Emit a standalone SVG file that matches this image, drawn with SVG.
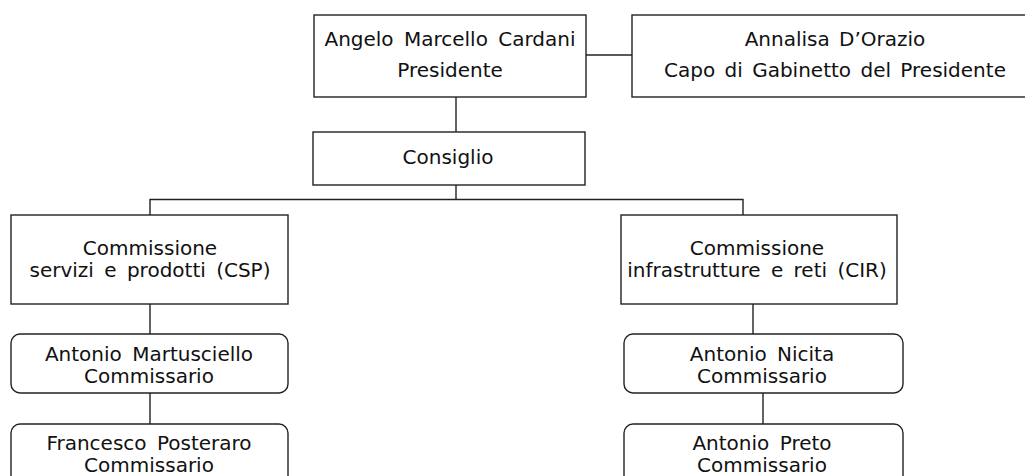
<svg xmlns="http://www.w3.org/2000/svg" width="1025" height="476" viewBox="0 0 1025 476">
<style>
.box{fill:#fff;stroke:#222;stroke-width:1.4}
.ln{fill:none;stroke:#222;stroke-width:1.4}
text{font-family:"DejaVu Sans","Verdana",sans-serif;font-size:20px;fill:#111;text-anchor:middle;word-spacing:4px}
.n{word-spacing:3px}
</style>
<rect width="1025" height="476" fill="#fff"/>
<g id="connectors">
<path class="ln" d="M586 55H632"/>
<path class="ln" d="M456 97V132"/>
<path class="ln" d="M456 185V199.5"/>
<path class="ln" d="M150 215V199.5H743V215" stroke="#555"/>
<path class="ln" d="M150 304V335"/>
<path class="ln" d="M150 393V424"/>
<path class="ln" d="M753 304V335"/>
<path class="ln" d="M763 393V424"/>
</g>
<g id="presidente">
<rect class="box" x="314" y="15" width="272" height="82"/>
<text x="450" y="46">Angelo Marcello Cardani</text>
<text x="450" y="77">Presidente</text>
</g>
<g id="capo-gabinetto">
<rect class="box" x="632" y="15" width="410" height="82"/>
<text class="n" x="835" y="46">Annalisa D’Orazio</text>
<text class="n" x="835" y="77">Capo di Gabinetto del Presidente</text>
</g>
<g id="consiglio">
<rect class="box" x="313" y="132" width="272" height="53"/>
<text x="448" y="164">Consiglio</text>
</g>
<g id="csp">
<rect class="box" x="11" y="215" width="277" height="89"/>
<text x="150" y="255">Commissione</text>
<text x="150" y="277">servizi e prodotti (CSP)</text>
</g>
<g id="cir">
<rect class="box" x="621" y="215" width="276" height="89"/>
<text x="757" y="255">Commissione</text>
<text x="757" y="277">infrastrutture e reti (CIR)</text>
</g>
<g id="martusciello">
<rect class="box" x="11" y="334" width="277" height="59" rx="9"/>
<text x="149" y="361">Antonio Martusciello</text>
<text x="149" y="383">Commissario</text>
</g>
<g id="posteraro">
<rect class="box" x="11" y="424" width="277" height="70" rx="9"/>
<text x="149" y="450">Francesco Posteraro</text>
<text x="149" y="472">Commissario</text>
</g>
<g id="nicita">
<rect class="box" x="624" y="334" width="279" height="59" rx="9"/>
<text x="762" y="361">Antonio Nicita</text>
<text x="762" y="383">Commissario</text>
</g>
<g id="preto">
<rect class="box" x="624" y="424" width="279" height="70" rx="9"/>
<text x="762" y="450">Antonio Preto</text>
<text x="762" y="472">Commissario</text>
</g>
</svg>
